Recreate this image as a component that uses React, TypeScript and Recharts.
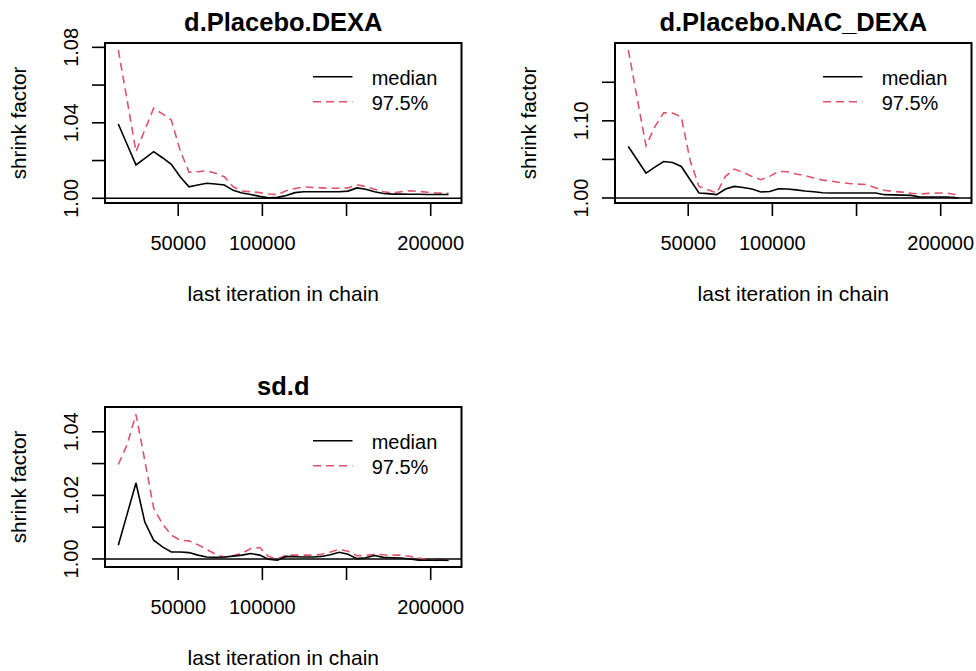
import React from 'react';
import { LineChart, Line, XAxis, YAxis, ReferenceLine, ReferenceArea, Customized } from 'recharts';

const iterations = [
  14400, 19650, 24900, 30150, 35400, 40650, 45900, 51150, 56400, 61650,
  66900, 72150, 77400, 82650, 87900, 93150, 98400, 103650, 108900, 114150,
  119400, 124650, 129900, 135150, 140400, 145650, 150900, 156150, 161400, 166650,
  171900, 177150, 182400, 187650, 192900, 198150, 203400, 208650, 210600,
];

const xTicks = [50000, 100000, 150000, 200000];
const xTickLabels = ['50000', '100000', '', '200000'];
const xDomain = [6500, 218300];

const dexaMedian = [
  1.0394, 1.0285, 1.0177, 1.0212, 1.0247, 1.0215, 1.018, 1.0114, 1.0061, 1.007,
  1.008, 1.0076, 1.007, 1.0042, 1.0028, 1.002, 1.001, 1.0003, 1.0005, 1.0015,
  1.003, 1.0035, 1.0035, 1.0035, 1.0035, 1.0035, 1.0038, 1.0055, 1.0048, 1.0035,
  1.0025, 1.0022, 1.0022, 1.0021, 1.0021, 1.002, 1.002, 1.002, 1.002,
];
const dexaUpper = [
  1.0786, 1.052, 1.0247, 1.0362, 1.0477, 1.0447, 1.0415, 1.0254, 1.0138, 1.0141,
  1.0146, 1.0133, 1.0114, 1.0061, 1.0039, 1.0035, 1.003, 1.0023, 1.002, 1.004,
  1.0052, 1.006, 1.0057, 1.0055, 1.0053, 1.0053, 1.0055, 1.0072, 1.0062, 1.0048,
  1.0035, 1.0028, 1.0035, 1.004, 1.0036, 1.0032, 1.0028, 1.0027, 1.0027,
];

const nacMedian = [
  1.0668, 1.0495, 1.0323, 1.04, 1.0473, 1.046, 1.0409, 1.0237, 1.0065, 1.0056,
  1.0043, 1.0116, 1.015, 1.0137, 1.0116, 1.0078, 1.0085, 1.012, 1.0116, 1.0105,
  1.009, 1.008, 1.0068, 1.0065, 1.0065, 1.0065, 1.0065, 1.0065, 1.0065, 1.0043,
  1.004, 1.0037, 1.0034, 1.0013, 1.0013, 1.0013, 1.0013, 1.0005, 1.0003,
];
const nacUpper = [
  1.1919, 1.1295, 1.0677, 1.0922, 1.1105, 1.11, 1.105, 1.0486, 1.015, 1.0107,
  1.0065, 1.028, 1.0375, 1.0331, 1.028, 1.0237, 1.028, 1.0344, 1.034, 1.031,
  1.029, 1.026, 1.0232, 1.0217, 1.02, 1.0188, 1.018, 1.0173, 1.013, 1.01,
  1.0085, 1.0076, 1.0062, 1.0052, 1.006, 1.0065, 1.0063, 1.0045, 1.0042,
];

const sdMedian = [
  1.0043, 1.0141, 1.0239, 1.0116, 1.0059, 1.0038, 1.0022, 1.0022, 1.002, 1.0012,
  1.0006, 1.0005, 1.0006, 1.0009, 1.0012, 1.0017, 1.0012, 0.9999, 0.9996, 1.0008,
  1.0007, 1.0006, 1.0006, 1.0008, 1.0013, 1.0021, 1.0015, 1.0001, 1.0004, 1.0011,
  1.0005, 1.0004, 1.0003, 1.0, 0.9996, 0.9996, 0.9996, 0.9996, 0.9996,
];
const sdUpper = [
  1.0297, 1.036, 1.0455, 1.031, 1.016, 1.011, 1.0075, 1.0059, 1.0057, 1.0045,
  1.003, 1.0015, 1.0006, 1.001, 1.0018, 1.0033, 1.0036, 1.0008, 1.0, 1.0012,
  1.0012, 1.0012, 1.0012, 1.0015, 1.0022, 1.003, 1.0024, 1.001, 1.0011, 1.0015,
  1.0013, 1.0012, 1.0012, 1.0008, 1.0003, 0.9998, 0.9995, 0.9995, 0.9995,
];

const FONT = '"Liberation Sans", Arial, Helvetica, sans-serif';
const RED = '#DF536B';
const LW = 1.6;

type PanelProps = {
  left: number;
  top: number;
  title: string;
  median: number[];
  upper: number[];
  yDomain: number[];
  yTicks: number[];
  yLabeled: number[];
};

function Panel({ left, top, title, median, upper, yDomain, yTicks, yLabeled }: PanelProps) {
  const data = iterations.map((it, i) => ({ iter: it, median: median[i], upper: upper[i] }));
  const isLabeled = (v: number) => yLabeled.some((l) => Math.abs(l - v) < 1e-9);

  const XTick = (props: any) => {
    const { x, payload } = props;
    const idx = xTicks.findIndex((t) => t === payload.value);
    const label = idx >= 0 ? xTickLabels[idx] : '';
    return (
      <text x={x} y={250} textAnchor="middle" fontSize={20} fontFamily={FONT} fill="#000">
        {label}
      </text>
    );
  };

  const YTick = (props: any) => {
    const { y, payload } = props;
    if (!isLabeled(payload.value)) return <g />;
    return (
      <text
        x={78}
        y={y}
        transform={`rotate(-90 78 ${y})`}
        textAnchor="middle"
        fontSize={20}
        fontFamily={FONT}
        fill="#000"
      >
        {Number(payload.value).toFixed(2)}
      </text>
    );
  };

  const Decor = () => (
    <g fontFamily={FONT} fill="#000">
      <text x={283.3} y={31} textAnchor="middle" fontSize={25.5} fontWeight="bold">
        {title}
      </text>
      <text x={283.3} y={301} textAnchor="middle" fontSize={21}>
        last iteration in chain
      </text>
      <text x={26} y={123} transform="rotate(-90 26 123)" textAnchor="middle" fontSize={20.7}>
        shrink factor
      </text>
      <line x1={313} y1={76.7} x2={352.5} y2={76.7} stroke="#000" strokeWidth={LW} />
      <line x1={313} y1={101.7} x2={352.5} y2={101.7} stroke={RED} strokeWidth={LW} strokeDasharray="8 5" />
      <text x={371.7} y={85} fontSize={20}>median</text>
      <text x={371.7} y={109.5} fontSize={20}>97.5%</text>
    </g>
  );

  return (
    <div style={{ position: 'absolute', left, top }}>
      <LineChart width={466} height={320} data={data} margin={{ top: 43, left: 45, right: 4.5, bottom: 57 }}>
        <XAxis
          dataKey="iter"
          type="number"
          domain={xDomain}
          allowDataOverflow
          ticks={xTicks}
          interval={0}
          height={60}
          tickSize={13}
          axisLine={false}
          tickLine={{ stroke: '#000', strokeWidth: LW }}
          tick={XTick}
        />
        <YAxis
          type="number"
          domain={yDomain}
          allowDataOverflow
          ticks={yTicks}
          interval={0}
          width={60}
          tickSize={13}
          axisLine={false}
          tickLine={{ stroke: '#000', strokeWidth: LW }}
          tick={YTick}
        />
        <ReferenceArea
          x1={xDomain[0]}
          x2={xDomain[1]}
          y1={yDomain[0]}
          y2={yDomain[1]}
          fill="none"
          fillOpacity={0}
          stroke="#000"
          strokeWidth={2}
          ifOverflow="visible"
        />
        <ReferenceLine y={1} stroke="#000" strokeWidth={LW} />
        <Line
          type="linear"
          dataKey="upper"
          stroke={RED}
          strokeWidth={LW}
          strokeDasharray="8 5"
          dot={false}
          activeDot={false}
          isAnimationActive={false}
        />
        <Line
          type="linear"
          dataKey="median"
          stroke="#000"
          strokeWidth={LW}
          dot={false}
          activeDot={false}
          isAnimationActive={false}
        />
        <Customized component={Decor} />
      </LineChart>
    </div>
  );
}

export default function App() {
  return (
    <div
      style={{
        position: 'absolute',
        left: 0,
        top: 0,
        width: 976,
        height: 671,
        background: '#fff',
        fontFamily: FONT,
      }}
    >
      <Panel
        left={0}
        top={0}
        title="d.Placebo.DEXA"
        median={dexaMedian}
        upper={dexaUpper}
        yDomain={[0.9975, 1.0823]}
        yTicks={[1.0, 1.02, 1.04, 1.06, 1.08]}
        yLabeled={[1.0, 1.04, 1.08]}
      />
      <Panel
        left={510}
        top={0}
        title="d.Placebo.NAC_DEXA"
        median={nacMedian}
        upper={nacUpper}
        yDomain={[0.9935, 1.2009]}
        yTicks={[1.0, 1.05, 1.1, 1.15]}
        yLabeled={[1.0, 1.1]}
      />
      <Panel
        left={0}
        top={364}
        title="sd.d"
        median={sdMedian}
        upper={sdUpper}
        yDomain={[0.99747, 1.0478]}
        yTicks={[1.0, 1.01, 1.02, 1.03, 1.04]}
        yLabeled={[1.0, 1.02, 1.04]}
      />
    </div>
  );
}
